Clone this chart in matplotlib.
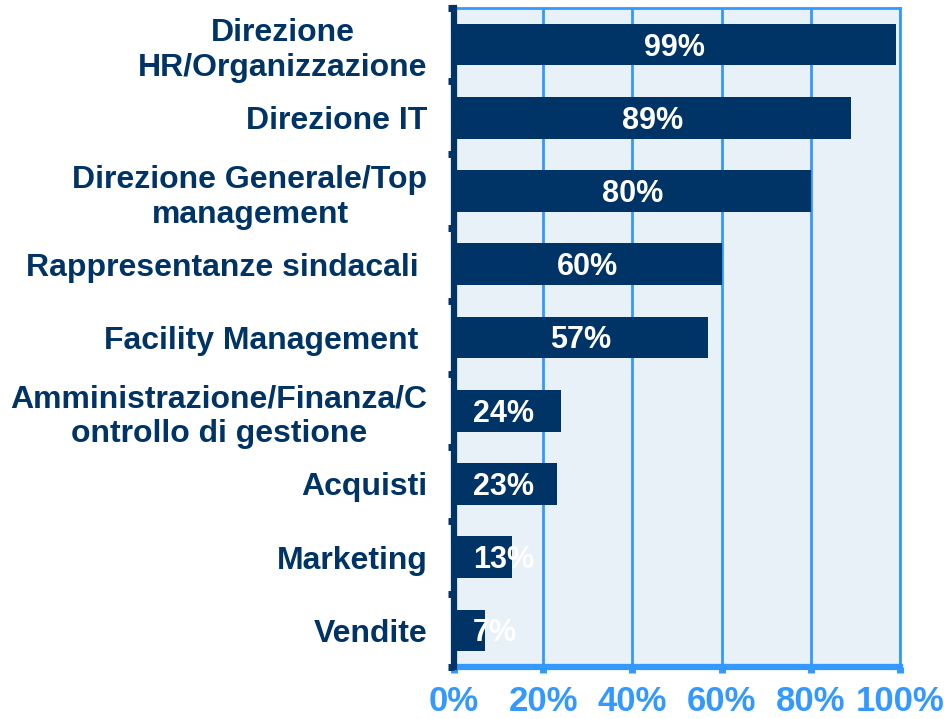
import numpy as np
import matplotlib
matplotlib.use("Agg")
import matplotlib.pyplot as plt

plt.rcParams['font.family'] = ['Liberation Sans', 'DejaVu Sans']
plt.rcParams['font.weight'] = 'bold'

# data, top to bottom
categories = ["Direzione\nHR/Organizzazione",
              "Direzione IT",
              "Direzione Generale/Top\nmanagement",
              "Rappresentanze sindacali ",
              "Facility Management ",
              "Amministrazione/Finanza/C\nontrollo di gestione",
              "Acquisti",
              "Marketing",
              "Vendite"]
values = [99, 89, 80, 60, 57, 24, 23, 13, 7]
xticks = [0, 20, 40, 60, 80, 100]
xtick_labels = ["0%", "20%", "40%", "60%", "80%", "100%"]

NAVY = "#003366"
BLUE = "#3399FF"
BG = "#E8F0F8"

fig = plt.figure(figsize=(9.44, 7.19), dpi=100)
ax = fig.add_axes([0.4809, 0.0723, 0.4725, 0.9166])
ax.set_facecolor(BG)

ypos = np.arange(len(categories))
ax.barh(ypos, values, height=0.57, color=NAVY, zorder=3)

for y, v in zip(ypos, values):
    if v < 25:
        ax.text(4.3, y + 0.04, f"{v}%", ha='left', va='center', color='white',
                fontsize=22, fontweight='bold', zorder=4)
    else:
        ax.text(v / 2, y + 0.04, f"{v}%", ha='center', va='center', color='white',
                fontsize=22, fontweight='bold', zorder=4)

ax.set_xlim(0, 100)
ax.set_ylim(len(categories) - 0.5, -0.5)

ax.set_xticks(xticks)
ax.set_xticklabels(xtick_labels, fontsize=25, fontweight='bold', color=BLUE)
ax.tick_params(axis='x', direction='out', length=4, width=5, color=BLUE, pad=9)

ax.set_yticks(ypos)
ax.set_yticklabels(categories, fontsize=23, fontweight='bold', color=NAVY,
                   multialignment='center', linespacing=1.22)
ax.tick_params(axis='y', which='major', length=0, pad=19)
ax.set_yticks(np.arange(len(categories) + 1) - 0.5, minor=True)
ax.tick_params(axis='y', which='minor', direction='out', length=4, width=5, color=NAVY)

ax.grid(axis='x', color=BLUE, linewidth=2, zorder=1)
ax.set_axisbelow(True)

ax.spines['left'].set_color(NAVY)
ax.spines['left'].set_linewidth(4.5)
ax.spines['left'].set_zorder(5)
ax.spines['bottom'].set_color(BLUE)
ax.spines['bottom'].set_linewidth(4.5)
ax.spines['top'].set_color(BLUE)
ax.spines['top'].set_linewidth(2)
ax.spines['right'].set_color(BLUE)
ax.spines['right'].set_linewidth(2)

fig.savefig("out.png", dpi=100)
